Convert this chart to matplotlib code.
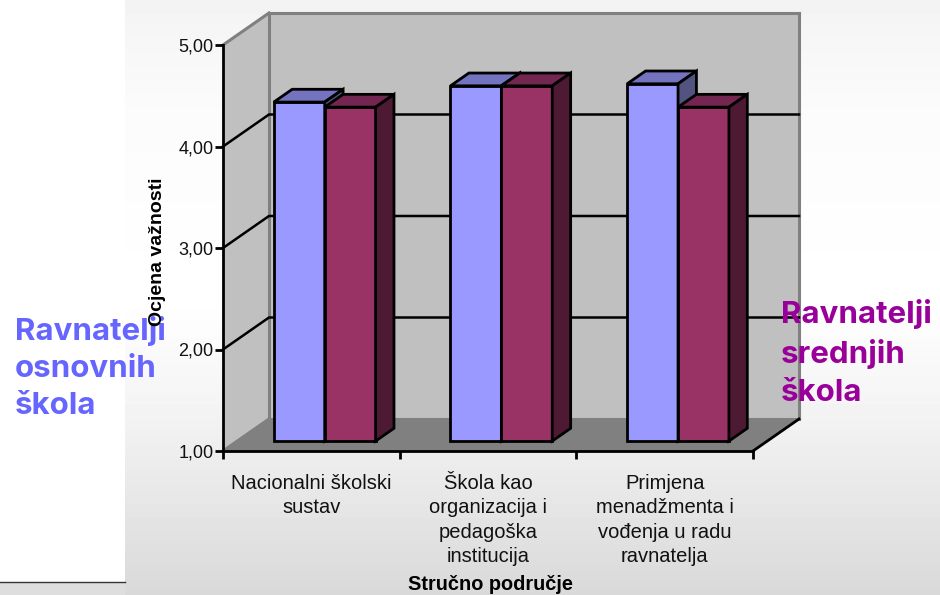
import numpy as np, matplotlib
matplotlib.use("Agg")
import matplotlib.pyplot as plt
from matplotlib.patches import Polygon

categories = ["Nacionalni školski\nsustav", "Škola kao\norganizacija i\npedagoška\ninstitucija", "Primjena\nmenadžmenta i\nvođenja u radu\nravnatelja"]
osnovne = [4.34, 4.50, 4.52]
srednje = [4.29, 4.50, 4.29]
y_ticks = [1, 2, 3, 4, 5]
y_labels = ["1,00", "2,00", "3,00", "4,00", "5,00"]

W, H = 940, 595
plt.rcParams["font.family"] = ["Liberation Sans", "DejaVu Sans"]
fig = plt.figure(figsize=(W/100, H/100), dpi=100, facecolor="white")

# slide background: white strip on the left, soft grey gradient on the rest
bg = fig.add_axes([0, 0, 1, 1], zorder=0); bg.set_axis_off()
bg.set_xlim(0, W); bg.set_ylim(H, 0)
stops = np.interp(np.arange(H), [0, 20, 110, 300, 420, 595], [.95, .96, .985, 1, .95, .85])
bg.imshow(stops[:, None], extent=[125, W, H, 0], cmap="gray", vmin=0, vmax=1, aspect="auto")
bg.set_xlim(0, W); bg.set_ylim(H, 0)
bg.fill_between([0, 125], 582, H, color="#dedede", lw=0)
bg.plot([0, 125], [581.5, 581.5], color="#333333", lw=1)

ax = fig.add_axes([223/W, 1-451/H, 530/W, 406/H], zorder=1)
ax.patch.set_alpha(0)
ax.set_xlim(0, 3); ax.set_ylim(1, 5)

DX, DY = 46/176.7, 32/101.5   # depth shear, data units
def pt(x, v, d=0): return (x+d*DX, v+d*DY)
def face(pts, color, edge="black", lw=2, z=3):
    ax.add_patch(Polygon(pts, closed=True, facecolor=color, edgecolor=edge, lw=lw, zorder=z, clip_on=False, joinstyle="miter"))

# walls and floor
face([pt(0, 1), pt(0, 5), pt(0, 5, 1), pt(0, 1, 1)], "#c0c0c0", "none", 0, 1)
face([pt(0, 1, 1), pt(0, 5, 1), pt(3, 5, 1), pt(3, 1, 1)], "#c0c0c0", "none", 0, 1)
face([pt(0, 1), pt(3, 1), pt(3, 1, 1), pt(0, 1, 1)], "#808080", "none", 0, 1.2)
for a, b in [(pt(0, 5), pt(0, 5, 1)), (pt(0, 5, 1), pt(3, 5, 1)), (pt(0, 1, 1), pt(0, 5, 1)), (pt(3, 5, 1), pt(3, 1, 1)), (pt(0, 1), pt(0, 1, 1)), (pt(0, 1, 1), pt(3, 1, 1))]:
    ax.plot(*zip(a, b), color="#808080", lw=2.2, zorder=1.3, clip_on=False, solid_capstyle="projecting")
for v in y_ticks[1:-1]:
    ax.plot(*zip(pt(0, v), pt(0, v, 1), pt(3, v, 1)), color="black", lw=1.8, zorder=1.5, clip_on=False)
ax.plot(*zip(pt(3, 1), pt(3, 1, 1)), color="black", lw=2, zorder=1.5, clip_on=False)

# bars
front, depth, bw, gap = 0.31, 0.40, 0.288, 0.207
shades = {"#9999ff": ("#7373bf", "#53537f"), "#993366": ("#732650", "#4d1933")}
for i in range(len(categories)):
    for s, (vals, col) in enumerate([(osnovne, "#9999ff"), (srednje, "#993366")]):
        x0 = i+gap+s*bw; x1 = x0+bw; v = vals[i]; z = 3+i+s*0.5
        xf = x0+front*DX
        ax.bar(xf, v-1, bw, bottom=1+front*DY, align="edge", color=col, edgecolor="black", lw=2, zorder=z, clip_on=False)
        top, side = shades[col]
        face([pt(x0, v, front), pt(x1, v, front), pt(x1, v, front+depth), pt(x0, v, front+depth)], top, z=z)
        face([pt(x1, 1, front), pt(x1, v, front), pt(x1, v, front+depth), pt(x1, 1, front+depth)], side, z=z)

# axes, ticks and text
for s in ["top", "right"]: ax.spines[s].set_visible(False)
for s in ["left", "bottom"]:
    ax.spines[s].set_linewidth(2); ax.spines[s].set_zorder(9)
ax.set_yticks(y_ticks); ax.set_yticklabels(y_labels, fontsize=13, color="#111111")
ax.set_xticks(range(4)); ax.set_xticklabels([])
ax.set_xticks([0.5, 1.5, 2.5], minor=True)
ax.set_xticklabels(categories, minor=True, fontsize=14.5, linespacing=1.36, color="#111111")
ax.tick_params(axis="x", which="major", length=6, width=2)
ax.tick_params(axis="x", which="minor", length=0, pad=16.5)
ax.tick_params(axis="y", length=6, width=2, pad=1)
for t in ax.get_xticklabels(minor=True): t.set_verticalalignment("top")

fig.text(157/W, 1-252/H, "Ocjena važnosti", rotation=90, ha="center", va="center", fontsize=14, fontweight="bold", color="black", zorder=6)
fig.text(490/W, 1-585/H, "Stručno područje", ha="center", va="center", fontsize=14.3, fontweight="bold", color="black", zorder=6)
fig.text(15/W, 1-368/H, "Ravnatelji\nosnovnih\nškola", ha="left", va="center", fontsize=22.5, fontweight="bold", family="Inter", color="#6666ff", linespacing=1.42, zorder=5)
fig.text(781/W, 1-353/H, "Ravnatelji\nsrednjih\nškola", ha="left", va="center", fontsize=22.5, fontweight="bold", family="Inter", color="#990099", linespacing=1.42, zorder=5)

fig.savefig("out.png", dpi=100)
